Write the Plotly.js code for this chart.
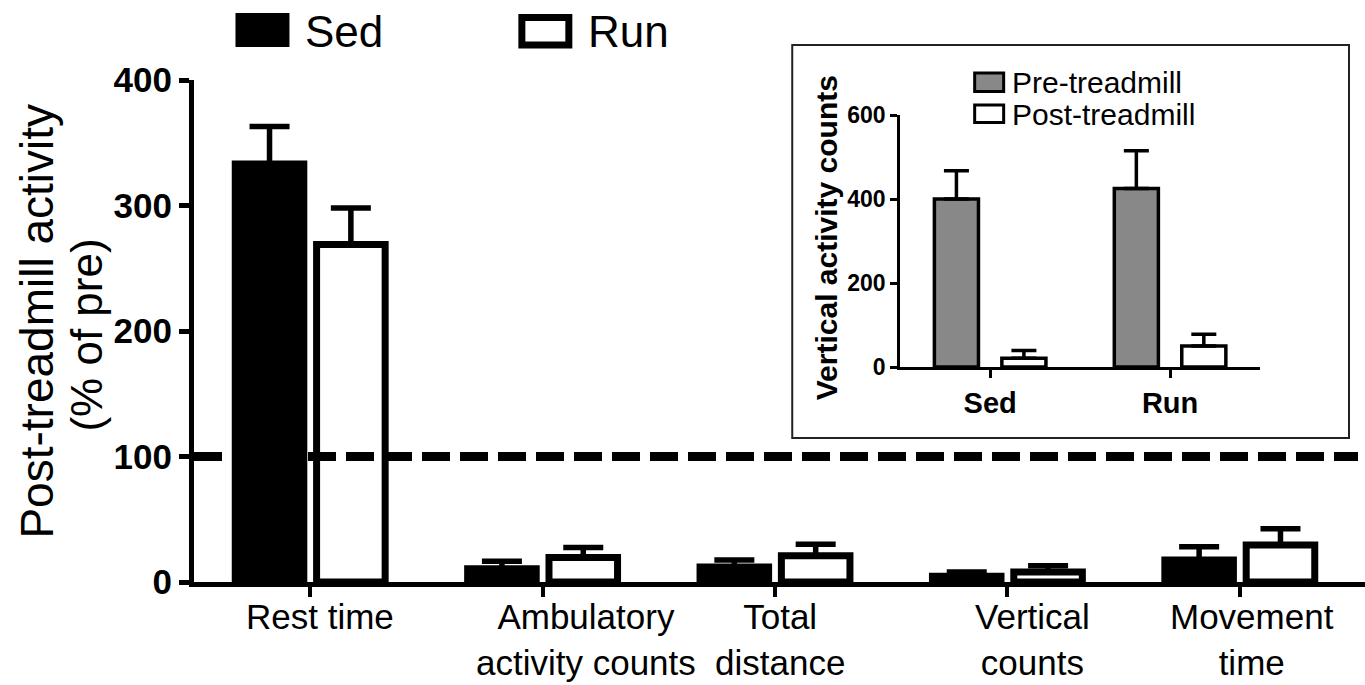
<!DOCTYPE html>
<html><head><meta charset="utf-8">
<script src="https://cdn.plot.ly/plotly-3.0.1.min.js"></script>
<style>html,body{margin:0;padding:0;background:#fff}#chart{width:1365px;height:685px}</style>
</head><body><div id="chart"></div>
<script>
// ---------- data ----------
const categories = ["Rest time", "Ambulatory activity counts", "Total distance", "Vertical counts", "Movement time"];
const categoryLabels = ["Rest time", "Ambulatory<br>activity counts", "Total<br>distance", "Vertical<br>counts", "Movement<br>time"];
const seriesNames = ["Sed", "Run"];
const sedValues = [333, 10.5, 12, 4.5, 17.5];
const sedErrors = [30, 6, 5.5, 3.5, 10.5];
const runValues = [269, 19.5, 21, 8, 29.5];
const runErrors = [29, 8, 9, 5, 13];
const referenceLevel = 100;
const yTicks = [0, 100, 200, 300, 400];
const yTitleLines = ["Post-treadmill activity", "(% of pre)"];

const insetGroups = ["Sed", "Run"];
const insetSeriesNames = ["Pre-treadmill", "Post-treadmill"];
const preValues = [400, 425];
const preErrors = [67, 90];
const postValues = [21, 50];
const postErrors = [18, 28];
const insetYTicks = [0, 200, 400, 600];
const insetYTitle = "Vertical activity counts";

// ---------- geometry helpers ----------
const W = 1365, H = 685;
const L = 193.5, R = 1365, T = 80, B = 582;
const px2x = p => (p - L) / (R - L);
const px2y = p => (B - p) / (B - T);
const catPx = 232.5;
const FONT = '"Liberation Sans", Arial, Helvetica, sans-serif';
const zeros = n => new Array(n).fill(0);

const mainW = 0.295, mainSep = 0.35;
const insW = 0.245, insSep = 0.375;

const traces = [
  {type: 'bar', name: seriesNames[0], x: categories, y: sedValues, xaxis: 'x', yaxis: 'y',
   width: mainW, offset: -mainSep / 2 - mainW / 2,
   marker: {color: '#000', line: {color: '#000', width: 7}},
   error_y: {type: 'data', array: sedErrors, arrayminus: zeros(sedErrors.length), symmetric: false,
             color: '#000', thickness: 5.5, width: 20}},
  {type: 'bar', name: seriesNames[1], x: categories, y: runValues, xaxis: 'x', yaxis: 'y',
   width: mainW, offset: mainSep / 2 - mainW / 2,
   marker: {color: '#fff', line: {color: '#000', width: 7}},
   error_y: {type: 'data', array: runErrors, arrayminus: zeros(runErrors.length), symmetric: false,
             color: '#000', thickness: 5.5, width: 20}},
  {type: 'bar', name: insetSeriesNames[0], x: insetGroups, y: preValues, xaxis: 'x2', yaxis: 'y2',
   width: insW, offset: -insSep / 2 - insW / 2,
   marker: {color: '#888888', line: {color: '#000', width: 3.5}},
   error_y: {type: 'data', array: preErrors, arrayminus: zeros(preErrors.length), symmetric: false,
             color: '#000', thickness: 3.5, width: 12.5}},
  {type: 'bar', name: insetSeriesNames[1], x: insetGroups, y: postValues, xaxis: 'x2', yaxis: 'y2',
   width: insW, offset: insSep / 2 - insW / 2,
   marker: {color: '#fff', line: {color: '#000', width: 3.5}},
   error_y: {type: 'data', array: postErrors, arrayminus: zeros(postErrors.length), symmetric: false,
             color: '#000', thickness: 3.5, width: 12.5}}
];

const labelShifts = [9.5, 43, 5, 25, 12];

const annotations = [];
categoryLabels.forEach((t, i) => annotations.push({
  text: t, xref: 'x', x: categories[i], xshift: labelShifts[i], yref: 'paper', y: px2y(597),
  xanchor: 'center', yanchor: 'top', showarrow: false, align: 'center', borderpad: 0, borderwidth: 0,
  font: {family: FONT, size: 35, color: '#000'}
}));
// y title (two lines)
annotations.push({text: yTitleLines[0], xref: 'paper', yref: 'paper', x: px2x(36), y: px2y(321),
  textangle: -90, showarrow: false, xanchor: 'center', yanchor: 'middle',
  font: {family: FONT, size: 46, color: '#000'}});
annotations.push({text: yTitleLines[1], xref: 'paper', yref: 'paper', x: px2x(85), y: px2y(335),
  textangle: -90, showarrow: false, xanchor: 'center', yanchor: 'middle',
  font: {family: FONT, size: 44, color: '#000'}});
// main legend texts
annotations.push({text: seriesNames[0], xref: 'paper', yref: 'paper', x: px2x(303), y: px2y(31),
  xanchor: 'left', yanchor: 'middle', showarrow: false, font: {family: FONT, size: 44, color: '#000'}});
annotations.push({text: seriesNames[1], xref: 'paper', yref: 'paper', x: px2x(586), y: px2y(31),
  xanchor: 'left', yanchor: 'middle', showarrow: false, font: {family: FONT, size: 44, color: '#000'}});
// inset legend texts
annotations.push({text: insetSeriesNames[0], xref: 'paper', yref: 'paper', x: px2x(1010), y: px2y(82),
  xanchor: 'left', yanchor: 'middle', showarrow: false, font: {family: FONT, size: 30, color: '#000'}});
annotations.push({text: insetSeriesNames[1], xref: 'paper', yref: 'paper', x: px2x(1010), y: px2y(114),
  xanchor: 'left', yanchor: 'middle', showarrow: false, font: {family: FONT, size: 30, color: '#000'}});
// inset y title
annotations.push({text: insetYTitle, xref: 'paper', yref: 'paper', x: px2x(826), y: px2y(238),
  textangle: -90, showarrow: false, xanchor: 'center', yanchor: 'middle',
  font: {family: FONT, size: 30, color: '#000', weight: 'bold'}});

const shapes = [
  // inset frame
  {type: 'rect', xref: 'paper', yref: 'paper', x0: px2x(792), x1: px2x(1349), y0: px2y(438), y1: px2y(45),
   line: {color: '#222', width: 2}, fillcolor: '#fff', layer: 'below'},
  // reference line at 100%
  {type: 'line', xref: 'paper', x0: 0, x1: px2x(1358), yref: 'y', y0: referenceLevel, y1: referenceLevel,
   line: {color: '#000', width: 9, dash: '28px,10px'}, layer: 'above'},
  // main legend swatches
  {type: 'rect', xref: 'paper', yref: 'paper', x0: px2x(235), x1: px2x(289), y0: px2y(47), y1: px2y(13),
   line: {width: 0}, fillcolor: '#000'},
  {type: 'rect', xref: 'paper', yref: 'paper', x0: px2x(521.5), x1: px2x(568.5), y0: px2y(45), y1: px2y(17.5),
   line: {color: '#000', width: 7}, fillcolor: '#fff'},
  // inset legend swatches
  {type: 'rect', xref: 'paper', yref: 'paper', x0: px2x(974.5), x1: px2x(1003.5), y0: px2y(91.5), y1: px2y(73),
   line: {color: '#000', width: 3}, fillcolor: '#888888'},
  {type: 'rect', xref: 'paper', yref: 'paper', x0: px2x(974.5), x1: px2x(1003.5), y0: px2y(122.5), y1: px2y(105),
   line: {color: '#000', width: 3}, fillcolor: '#fff'}
];

const layout = {
  width: W, height: H,
  margin: {l: L, r: W - R, t: T, b: H - B, pad: 0},
  paper_bgcolor: '#fff', plot_bgcolor: 'rgba(0,0,0,0)',
  showlegend: false, barmode: 'group',
  font: {family: FONT, color: '#000'},
  xaxis: {type: 'category', range: [-0.5, -0.5 + (R - L) / catPx], domain: [0, 1], anchor: 'y',
          showline: true, linewidth: 5, linecolor: '#000', ticks: 'outside', ticklen: 10, tickwidth: 4,
          tickcolor: '#000', showticklabels: false, showgrid: false, zeroline: false, fixedrange: true},
  yaxis: {range: [0, 400], domain: [0, 1], anchor: 'x', tickvals: yTicks,
          showline: true, linewidth: 5, linecolor: '#000', ticks: 'outside', ticklen: 10, tickwidth: 5,
          tickcolor: '#000', showgrid: false, zeroline: false, fixedrange: true,
          tickfont: {family: FONT, size: 35, color: '#000', weight: 'bold'}},
  xaxis2: {type: 'category', range: [-0.5, 1.5], domain: [px2x(900), px2x(1260)], anchor: 'y2',
           showline: true, linewidth: 3, linecolor: '#000', ticks: 'outside', ticklen: 8, tickwidth: 3,
           tickcolor: '#000', showgrid: false, zeroline: false, fixedrange: true,
           tickfont: {family: FONT, size: 29, color: '#000', weight: 'bold'}},
  yaxis2: {range: [0, 600], domain: [px2y(367), px2y(115)], anchor: 'x2', tickvals: insetYTicks,
           showline: true, linewidth: 3, linecolor: '#000', ticks: 'outside', ticklen: 7, tickwidth: 3,
           tickcolor: '#000', showgrid: false, zeroline: false, fixedrange: true,
           tickfont: {family: FONT, size: 23, color: '#000', weight: 'bold'}},
  annotations: annotations,
  shapes: shapes,
  hovermode: false
};

Plotly.newPlot('chart', traces, layout, {displayModeBar: false, staticPlot: true});
</script>
</body></html>
